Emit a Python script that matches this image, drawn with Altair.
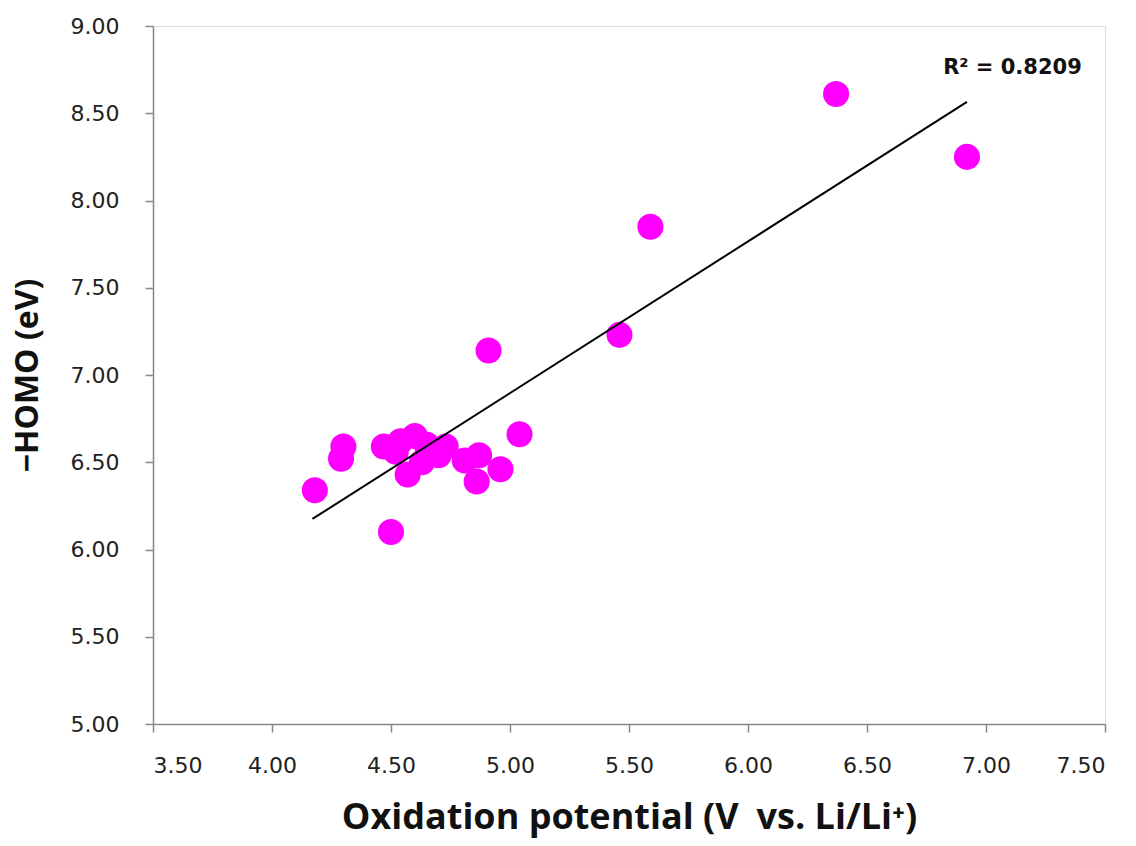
import altair as alt
import pandas as pd

ox_potential = [4.18, 4.30, 4.29, 4.47, 4.50, 4.52, 4.54, 4.57, 4.60, 4.63, 4.65, 4.68,
                4.70, 4.73, 4.81, 4.87, 4.86, 4.96, 5.04, 4.91, 5.46, 5.59, 6.37, 6.92]
neg_homo = [6.34, 6.59, 6.52, 6.59, 6.10, 6.56, 6.62, 6.43, 6.65, 6.50, 6.60, 6.55,
            6.54, 6.59, 6.51, 6.54, 6.39, 6.46, 6.66, 7.14, 7.23, 7.85, 8.61, 8.25]

trend_x = [4.17, 6.92]
trend_y = [6.175, 8.565]

label_x = [6.82]
label_y = [8.76]
label_text = ["R² = 0.8209"]

x_ticks = [3.5, 4.0, 4.5, 5.0, 5.5, 6.0, 6.5, 7.0, 7.5]
y_ticks = [5.0, 5.5, 6.0, 6.5, 7.0, 7.5, 8.0, 8.5, 9.0]

FONT = "Open Sans"
TICK_FONT = "DejaVu Sans"

pts = pd.DataFrame({"x": ox_potential, "y": neg_homo})
trend = pd.DataFrame({"x": trend_x, "y": trend_y})
lab = pd.DataFrame({"x": label_x, "y": label_y, "t": label_text})

xscale = alt.Scale(domain=[3.5, 7.5], nice=False, zero=False)
yscale = alt.Scale(domain=[5.0, 9.0], nice=False, zero=False)

xaxis = alt.Axis(values=x_ticks, format=".2f", grid=False, domainColor="#888888",
                 tickColor="#888888", tickSize=8, domainWidth=1.5, tickWidth=1.5,
                 labelFont=TICK_FONT, labelFontSize=22, labelColor="#222222", labelPadding=23,
                 title="Oxidation potential (V\u2002vs. Li/Li⁺)", titleFont=FONT,
                 titleFontSize=36, titleFontWeight="bold", titleColor="#111111",
                 titlePadding=24)
yaxis = alt.Axis(values=y_ticks, format=".2f", grid=False, domainColor="#888888",
                 tickColor="#888888", tickSize=8, domainWidth=1.5, tickWidth=1.5,
                 labelFont=TICK_FONT, labelFontSize=22, labelColor="#222222", labelPadding=26,
                 title="−HOMO (eV)", titleFont=FONT, titleFontSize=32,
                 titleFontWeight="bold", titleColor="#111111", titlePadding=26)

points = alt.Chart(pts).mark_circle(size=680, color="#FF00FF", opacity=1).encode(
    x=alt.X("x:Q", scale=xscale, axis=xaxis),
    y=alt.Y("y:Q", scale=yscale, axis=yaxis),
)

line = alt.Chart(trend).mark_line(color="black", strokeWidth=2).encode(
    x=alt.X("x:Q", scale=xscale),
    y=alt.Y("y:Q", scale=yscale),
)

text = alt.Chart(lab).mark_text(align="left", baseline="middle", font=TICK_FONT,
                                fontSize=21, fontWeight="bold", color="#111111").encode(
    x=alt.X("x:Q", scale=xscale),
    y=alt.Y("y:Q", scale=yscale),
    text="t:N",
)

chart = alt.layer(points, line, text).properties(
    width=952, height=698,
    autosize=alt.AutoSizeParams(type="none"),
    padding={"left": 153, "top": 26, "right": 31, "bottom": 122},
).configure_view(stroke=None).configure(background="white")

chart.save("out.html", embed_options={"renderer": "svg", "actions": False})
